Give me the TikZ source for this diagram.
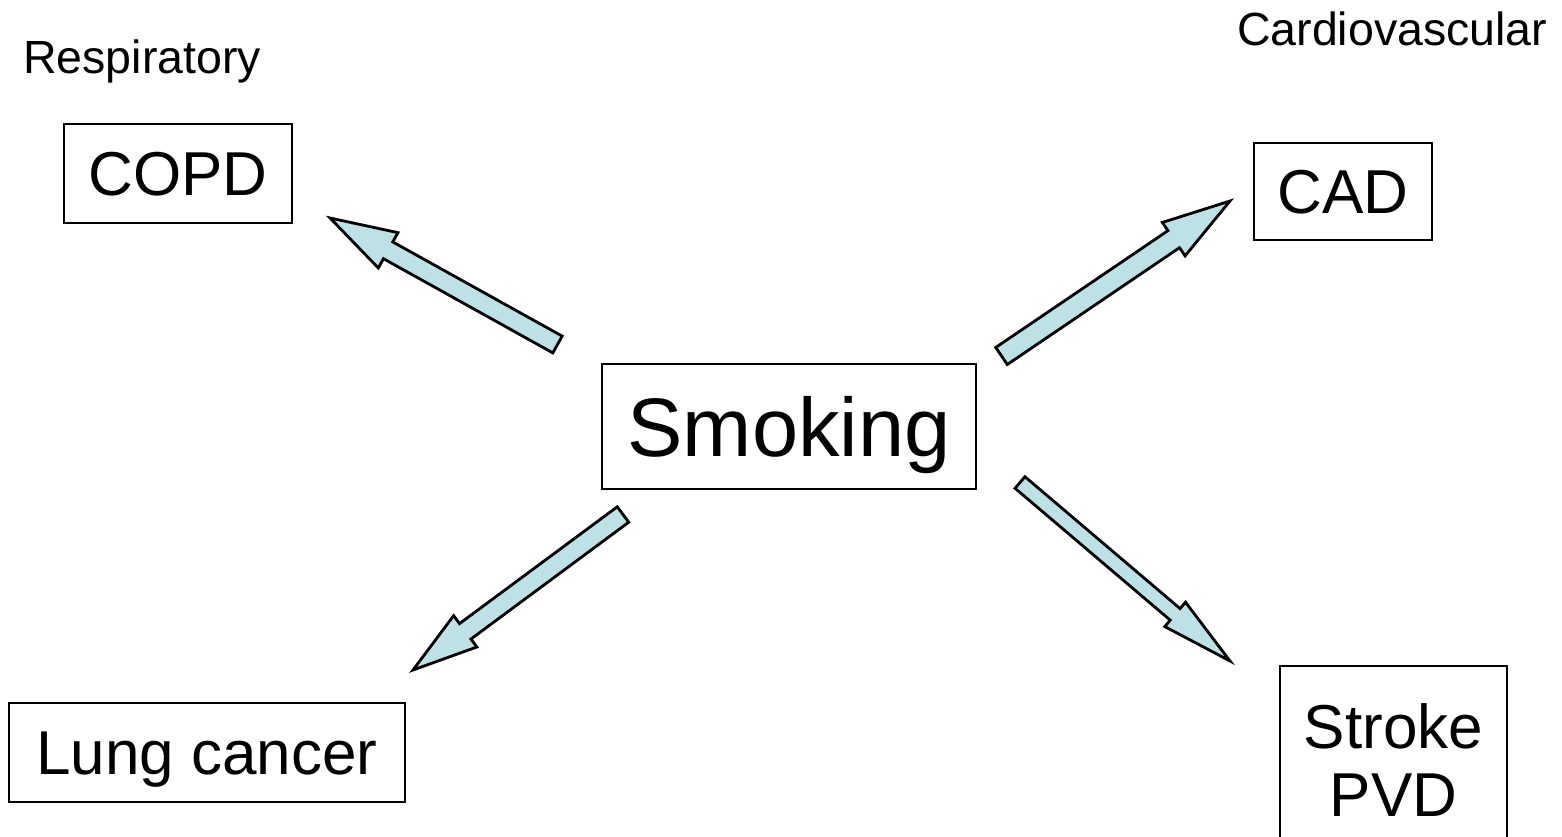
\documentclass[tikz,border=0pt]{standalone}
\usepackage{fontspec}
\setmainfont{Liberation Sans}
\usetikzlibrary{calc}
\definecolor{arrowfill}{RGB}{189,225,229}
\tikzset{
  box/.style={draw=black, line width=2.3pt, inner sep=0pt, font=\fontsize{62}{68}\selectfont, text height=62pt, text depth=17.6pt},
  grouplabel/.style={inner sep=0pt, anchor=base west, font=\fontsize{46.5}{52}\selectfont},
  thickarr/.style={draw=black, line width=2.8pt, fill=arrowfill, line join=miter}
}
\newcommand{\bigarrow}[5]{%
  \coordinate (#1-h) at ($(#2)!#5!(#1)$);
  \draw[thickarr] ($(#1)!#3!90:(#2)$) -- ($(#1-h)!#3!90:(#2)$) -- ($(#1-h)!#4!90:(#2)$) -- (#2)
    -- ($(#1-h)!#4!-90:(#2)$) -- ($(#1-h)!#3!-90:(#2)$) -- ($(#1)!#3!-90:(#2)$) -- cycle;
}
\begin{document}
\begin{tikzpicture}[x=1pt, y=-1pt]
\useasboundingbox (0,0) rectangle (1562,837);
\clip (0,0) rectangle (1562,837);
\fill[white] (0,0) rectangle (1562,837);

\node[grouplabel] (resp) at (23,74) {Respiratory};
\node[grouplabel] (cardio) at (1237,46) {Cardiovascular};

\node[box, minimum width=228pt, minimum height=99pt] (copd) at (178,173.5) {COPD};
\node[box, minimum width=178pt, minimum height=97pt] (cad) at (1343,191.5) {CAD};
\node[box, minimum width=374pt, minimum height=125pt, font=\fontsize{83}{90}\selectfont, text height=83pt, text depth=23.6pt] (smoking) at (789,426.5) {Smoking};
\node[box, minimum width=396pt, minimum height=99pt] (lung) at (207,752.5) {Lung cancer};
\node[draw=black, line width=2.3pt, anchor=north, minimum width=227pt, inner xsep=0pt, inner ysep=37pt, align=center, font=\fontsize{62}{68}\selectfont] (stroke) at (1393.5,665) {Stroke\\PVD};

% connectors: tail and tip points between the named nodes
\coordinate (a1) at (557.5,344.5); \coordinate (b1) at (330,218);
\coordinate (a2) at (1001.5,356);  \coordinate (b2) at (1230,201);
\coordinate (a3) at (623,514.5);   \coordinate (b3) at (413,670);
\coordinate (a4) at (1020,482.5);  \coordinate (b4) at (1230,661);

\bigarrow{a1}{b1}{9.6pt}{20.2pt}{66.5pt}
\bigarrow{a2}{b2}{10.3pt}{20.2pt}{68pt}
\bigarrow{a3}{b3}{9.6pt}{19.5pt}{65pt}
\bigarrow{a4}{b4}{7.6pt}{16pt}{72pt}
\end{tikzpicture}
\end{document}
